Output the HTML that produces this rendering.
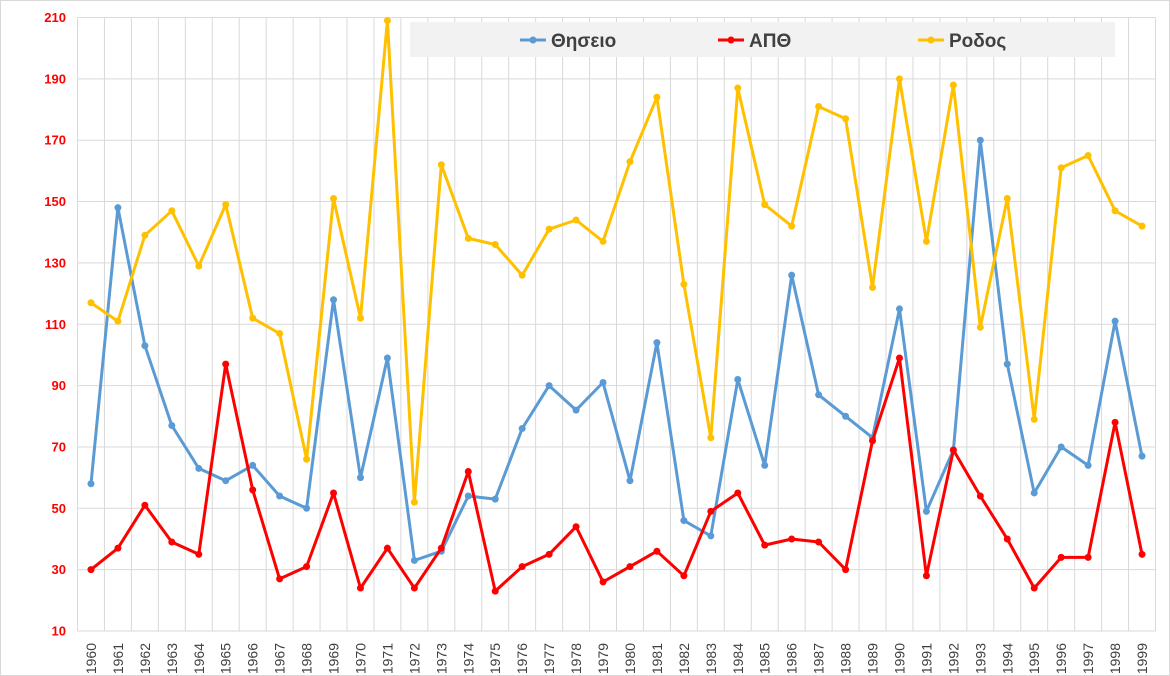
<!DOCTYPE html>
<html><head><meta charset="utf-8"><style>
html,body{margin:0;padding:0;background:#fff}
svg{display:block}
</style></head><body>
<svg id="c" width="1170" height="676" xmlns="http://www.w3.org/2000/svg" font-family="Liberation Sans, DejaVu Sans, sans-serif"></svg>
<script>
const s=document.getElementById('c');
const L=77.5,R=1155.5,T=17.5,B=631,N=40;
const st=(R-L)/N;
const y=v=>B-(v-10)*(B-T)/200;
const x=i=>L+st*(i+0.5);
let h='<rect x="0.5" y="0.5" width="1169" height="675" fill="#fff" stroke="#d9d9d9"/>';
for(let i=0;i<=N;i++){const gx=L+st*i;h+=`<line x1="${gx}" y1="${T}" x2="${gx}" y2="${B}" stroke="#d9d9d9" stroke-width="1"/>`;}
for(let v=10;v<=210;v+=20){h+=`<line x1="${L}" y1="${y(v)}" x2="${R}" y2="${y(v)}" stroke="#d9d9d9"/>`;
h+=`<text x="66" y="${y(v)+4.5}" text-anchor="end" font-size="13" font-weight="bold" fill="#ff0000">${v}</text>`;}
for(let i=0;i<N;i++){h+=`<text transform="translate(${x(i)+5},${643}) rotate(-90)" text-anchor="end" font-size="14" fill="#404040">${1960+i}</text>`;}
const d={b:[58,148,103,77,63,59,64,54,50,118,60,99,33,36,54,53,76,90,82,91,59,104,46,41,92,64,126,87,80,73,115,49,69,170,97,55,70,64,111,67],
r:[30,37,51,39,35,97,56,27,31,55,24,37,24,37,62,23,31,35,44,26,31,36,28,49,55,38,40,39,30,72,99,28,69,54,40,24,34,34,78,35],
g:[117,111,139,147,129,149,112,107,66,151,112,209,52,162,138,136,126,141,144,137,163,184,123,73,187,149,142,181,177,122,190,137,188,109,151,79,161,165,147,142]};
const col={b:'#5b9bd5',r:'#ff0000',g:'#ffc000'};
for(const k of ['b','r','g']){const p=d[k].map((v,i)=>`${x(i).toFixed(1)},${y(v).toFixed(1)}`).join(' ');
h+=`<polyline points="${p}" fill="none" stroke="${col[k]}" stroke-width="3" stroke-linejoin="round"/>`;
d[k].forEach((v,i)=>{h+=`<circle cx="${x(i)}" cy="${y(v)}" r="3.5" fill="${col[k]}"/>`;});}
h+='<rect x="410" y="22" width="705" height="35" fill="#f2f2f2"/>';
const lg=[['Θησειο','b',520],['ΑΠΘ','r',718],['Ροδος','g',918]];
for(const [t,k,lx] of lg){h+=`<line x1="${lx}" y1="40" x2="${lx+26}" y2="40" stroke="${col[k]}" stroke-width="3"/><circle cx="${lx+13}" cy="40" r="3.5" fill="${col[k]}"/>`;
h+=`<text x="${lx+31}" y="47" font-size="19" font-weight="bold" fill="#404040">${t}</text>`;}
s.innerHTML=h;
</script>
</body></html>
